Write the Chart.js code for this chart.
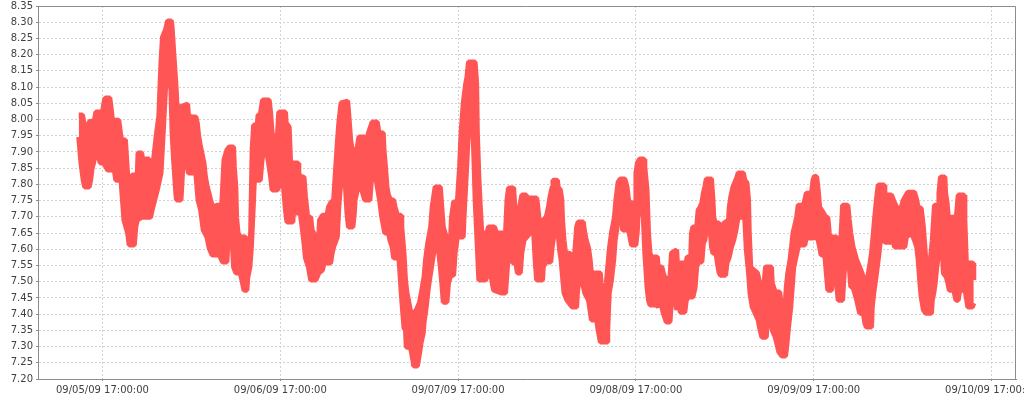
<!DOCTYPE html>
<html>
<head>
<meta charset="utf-8">
<script src="https://cdn.jsdelivr.net/npm/chart.js@4.4.1/dist/chart.umd.min.js"></script>
<style>
  html, body { margin: 0; padding: 0; background: #fff; }
  #wrap { width: 1024px; height: 400px; }
</style>
</head>
<body>
<div id="wrap"><canvas id="myChart"></canvas></div>
<script>
// hours after 09/05/09 17:00:00, upper and lower edge of the sampled band
const upperHours = [-3.2,-2.7,-2.4,-2.1,-1.8,-1.6,-1.1,-0.9,0,0.2,0.35,1.0,1.2,1.35,2.2,2.5,2.7,3.1,3.4,3.8,4.0,4.7,4.8,5.3,5.4,6.3,6.4,6.7,7.0,7.3,7.6,7.9,8.1,8.5,8.8,9.3,9.4,9.6,9.9,10.1,10.5,11.5,11.6,11.9,12.6,12.8,13.0,13.25,13.7,13.9,14.15,14.6,15.0,15.4,16.1,16.4,16.8,17.1,17.7,17.8,18.0,18.1,18.3,18.6,19.3,19.5,19.8,20.0,20.2,20.4,20.9,21.0,21.3,21.6,22.5,22.7,22.9,23.1,23.6,23.8,24.7,24.8,25.2,25.4,26.4,26.5,26.7,27.2,27.4,27.7,28.1,28.3,28.8,29.2,29.3,29.7,30.3,30.5,30.8,31.2,31.7,31.9,32.2,33.1,33.2,33.5,33.9,34.1,34.4,34.6,35.4,35.5,35.7,35.9,36.4,37.1,37.3,37.9,38.0,38.2,38.4,38.6,38.9,39.3,39.5,39.8,40.3,40.4,40.7,40.9,41.1,41.3,41.6,42.2,42.5,42.8,43.1,43.4,43.6,43.9,44.3,44.5,44.7,44.9,45.6,45.8,46.0,46.4,47.0,47.1,47.4,47.9,48.2,48.4,48.7,49.0,49.2,49.4,50.3,50.5,50.6,50.8,51.0,51.2,51.9,52.1,52.9,53.2,54.4,54.6,54.8,55.5,55.7,55.9,56.3,56.6,57.2,57.3,58.6,58.7,58.9,59.1,59.3,59.5,59.9,60.2,60.4,60.7,60.8,61.4,61.5,61.8,62.0,62.1,62.3,62.5,63.1,63.4,63.6,63.8,64.0,64.2,64.9,65.1,65.3,65.6,65.8,66.0,67.2,67.3,67.5,67.7,67.8,68.0,68.2,68.4,68.7,69.1,69.3,69.6,69.9,70.5,70.8,71.0,71.2,71.9,72.0,72.2,72.5,73.1,73.2,73.5,73.7,73.9,74.1,74.9,75.0,75.5,75.7,75.9,76.6,76.8,77.5,77.6,77.9,78.0,78.8,78.9,79.4,79.5,79.7,80.2,80.4,80.6,80.9,81.1,81.3,81.5,82.2,82.4,82.5,82.7,83.2,83.4,83.7,83.9,84.5,84.6,84.8,85.1,85.6,85.8,86.5,86.7,87.0,87.2,87.3,87.5,87.9,88.4,88.7,89.2,89.5,90.3,90.4,90.8,91.4,91.7,91.9,92.1,92.3,92.5,92.8,93.0,93.2,93.4,93.7,93.9,94.6,94.8,95.0,95.7,95.9,96.1,96.4,96.6,96.8,97.3,97.6,97.9,98.1,98.3,98.5,99.1,99.2,99.3,99.5,99.7,99.9,100.6,100.8,101.0,101.3,101.8,102.2,102.7,103.1,103.3,103.6,103.8,104.0,104.2,104.5,104.7,105.5,105.6,106.5,106.9,107.6,108.1,108.7,109.6,109.9,110.1,110.5,110.8,111.0,111.2,111.4,111.7,112.0,112.3,112.8,112.9,113.1,113.7,113.8,114.0,114.2,114.6,115.2,115.3,115.5,116.3,116.4,116.6,117.5,117.6];
const upperValues = [8.014,8.014,7.977,7.937,7.992,7.995,7.995,8.023,8.023,8.051,8.066,8.066,8.029,7.998,7.998,7.946,7.937,7.937,7.829,7.792,7.829,7.829,7.897,7.897,7.878,7.878,7.838,7.838,7.897,7.958,8.008,8.177,8.254,8.276,8.304,8.304,8.285,8.214,8.113,8.029,8.039,8.048,8.014,8.008,8.008,7.989,7.946,7.915,7.866,7.823,7.792,7.752,7.721,7.736,7.736,7.875,7.906,7.915,7.915,7.854,7.792,7.699,7.650,7.638,7.638,7.607,7.588,7.650,7.906,7.983,7.983,8.014,8.014,8.060,8.060,8.020,7.958,7.946,7.946,8.023,8.023,7.989,7.977,7.866,7.866,7.835,7.823,7.823,7.761,7.699,7.699,7.659,7.638,7.638,7.690,7.705,7.705,7.730,7.743,7.752,7.928,7.989,8.051,8.057,8.029,7.937,7.875,7.900,7.915,7.946,7.946,7.915,7.937,7.958,7.992,7.992,7.961,7.958,7.906,7.854,7.792,7.767,7.752,7.752,7.730,7.705,7.705,7.669,7.588,7.505,7.465,7.443,7.406,7.406,7.419,7.437,7.474,7.514,7.567,7.619,7.669,7.730,7.761,7.792,7.792,7.730,7.669,7.638,7.638,7.696,7.746,7.746,7.854,7.958,8.051,8.106,8.131,8.177,8.177,8.113,7.958,7.823,7.730,7.650,7.650,7.669,7.669,7.650,7.650,7.752,7.789,7.789,7.712,7.690,7.730,7.767,7.767,7.758,7.758,7.743,7.699,7.650,7.659,7.690,7.699,7.730,7.761,7.792,7.813,7.813,7.792,7.783,7.752,7.690,7.628,7.588,7.588,7.567,7.545,7.607,7.669,7.684,7.684,7.650,7.628,7.604,7.573,7.527,7.527,7.496,7.465,7.443,7.465,7.496,7.545,7.598,7.650,7.699,7.752,7.807,7.817,7.817,7.792,7.752,7.743,7.743,7.835,7.866,7.878,7.878,7.854,7.783,7.650,7.588,7.576,7.576,7.545,7.545,7.527,7.511,7.511,7.588,7.598,7.558,7.545,7.558,7.558,7.576,7.576,7.650,7.669,7.669,7.721,7.727,7.743,7.773,7.792,7.817,7.817,7.752,7.699,7.681,7.681,7.659,7.669,7.681,7.690,7.730,7.761,7.792,7.820,7.835,7.835,7.813,7.804,7.752,7.650,7.545,7.536,7.527,7.496,7.474,7.545,7.545,7.496,7.468,7.468,7.413,7.382,7.413,7.484,7.527,7.567,7.607,7.650,7.669,7.699,7.736,7.736,7.752,7.773,7.773,7.813,7.826,7.823,7.783,7.730,7.712,7.699,7.699,7.650,7.607,7.638,7.638,7.607,7.588,7.545,7.650,7.736,7.736,7.690,7.650,7.607,7.567,7.545,7.514,7.505,7.514,7.558,7.588,7.638,7.690,7.761,7.798,7.798,7.767,7.767,7.743,7.712,7.752,7.776,7.776,7.752,7.727,7.727,7.669,7.607,7.545,7.545,7.558,7.628,7.736,7.736,7.773,7.823,7.823,7.773,7.743,7.690,7.699,7.699,7.712,7.767,7.767,7.690,7.558,7.558,7.505];
const lowerHours = [-3.2,-2.9,-2.6,-2.4,-1.8,-1.6,-1.4,-1.2,-1.0,-0.5,-0.3,0.2,0.7,1.6,1.8,2.5,2.7,2.9,3.4,3.6,4.3,4.5,4.7,5.3,6.5,6.7,7.4,7.9,8.2,8.5,8.8,9.2,9.4,9.6,9.9,10.0,10.6,10.8,11.0,11.2,11.4,11.6,12.6,12.9,13.25,13.6,14.1,14.4,14.8,15.7,15.9,16.2,16.8,16.9,17.1,17.3,17.5,17.7,18.0,18.6,18.9,19.1,19.5,19.6,19.9,20.1,20.35,20.5,21.3,21.5,21.7,22.0,22.2,22.5,22.7,22.9,23.6,23.8,24.3,24.5,24.7,24.9,25.7,25.8,26.1,26.7,27.0,27.2,27.4,27.8,28.1,28.8,29.2,29.7,29.9,30.8,31.0,31.2,31.7,31.9,32.3,32.7,32.8,33.0,33.2,33.8,34.0,34.1,34.6,34.8,35.0,35.4,36.1,36.3,36.5,36.8,37.1,37.4,37.7,38.1,38.6,38.8,39.1,39.3,40.0,40.1,40.3,40.4,40.7,40.9,41.0,41.5,41.65,41.9,42.0,42.5,42.8,43.0,43.3,43.4,43.7,44.0,44.5,44.7,44.9,45.2,45.4,45.6,45.8,46.0,46.5,46.7,47.0,47.4,47.6,47.9,48.7,48.8,49.0,49.2,49.4,49.6,49.9,50.1,50.3,50.55,50.8,51.7,52.1,52.4,52.6,52.8,53.9,54.4,54.5,54.7,54.9,55.1,55.4,55.8,56.0,56.4,56.6,56.9,57.7,58.2,58.4,58.6,59.4,59.5,59.8,60.5,60.7,60.9,61.1,61.4,61.5,61.7,61.9,62.1,62.3,62.7,63.4,64.0,64.1,64.4,64.6,64.8,65.1,65.6,65.8,66.0,66.7,66.9,67.2,68.1,68.2,68.3,68.4,68.7,69.0,69.2,69.4,69.6,69.9,70.1,70.2,71.0,71.2,71.4,72.0,72.2,72.3,72.6,72.7,73.0,73.2,73.5,73.7,73.9,74.8,75.0,75.25,75.5,75.7,76.1,76.6,76.8,77.0,77.3,77.5,77.7,78.0,78.6,78.8,79.1,79.7,80.0,80.2,80.4,80.9,81.1,81.3,81.5,82.0,82.2,82.4,82.8,83.0,83.2,83.4,84.1,84.3,84.6,84.9,85.2,85.5,85.8,86.6,86.7,86.9,87.2,87.4,87.7,88.1,88.5,88.7,89.0,89.6,89.7,90.0,90.2,90.4,90.8,91.0,91.3,91.7,92.2,92.4,92.6,92.9,93.1,93.3,93.6,93.9,94.1,94.8,95.0,95.2,95.9,96.3,96.6,96.8,97.0,97.5,97.7,97.9,98.4,98.5,98.8,99.1,99.2,99.3,99.9,100.0,100.2,100.4,100.6,100.9,101.0,101.3,101.8,102.2,102.7,102.9,103.1,103.8,103.9,104.1,104.4,104.7,104.9,105.1,105.35,105.6,106.5,106.7,106.9,108.3,108.5,109.2,109.6,109.9,110.1,110.3,110.5,110.8,111.1,111.9,112.0,112.2,112.4,112.6,112.8,113.4,113.5,113.9,114.1,114.3,114.9,115.2,115.5,115.7,116.3,116.5,116.8,117.4,117.6];
const lowerValues = [7.946,7.866,7.813,7.792,7.792,7.813,7.850,7.866,7.891,7.884,7.866,7.866,7.844,7.844,7.813,7.813,7.752,7.690,7.650,7.613,7.613,7.669,7.690,7.699,7.699,7.721,7.783,7.835,7.958,8.091,8.137,8.122,7.958,7.875,7.773,7.752,7.752,7.835,7.900,7.900,7.866,7.835,7.835,7.752,7.721,7.659,7.638,7.604,7.582,7.582,7.576,7.561,7.561,7.607,7.743,7.699,7.628,7.545,7.527,7.527,7.496,7.474,7.474,7.511,7.545,7.607,7.730,7.813,7.813,7.866,7.906,7.906,7.897,7.854,7.823,7.783,7.783,7.792,7.835,7.773,7.721,7.684,7.684,7.730,7.712,7.712,7.659,7.619,7.573,7.545,7.505,7.505,7.527,7.536,7.558,7.558,7.588,7.607,7.638,7.730,7.844,7.854,7.792,7.712,7.669,7.669,7.712,7.752,7.804,7.804,7.783,7.752,7.752,7.813,7.835,7.835,7.792,7.752,7.699,7.650,7.650,7.628,7.607,7.573,7.573,7.545,7.474,7.443,7.357,7.351,7.298,7.298,7.289,7.258,7.240,7.240,7.280,7.311,7.342,7.372,7.422,7.484,7.558,7.588,7.628,7.650,7.588,7.545,7.496,7.437,7.437,7.496,7.520,7.520,7.588,7.638,7.638,7.699,7.783,7.875,7.968,8.029,8.029,7.906,7.752,7.628,7.505,7.505,7.527,7.527,7.496,7.474,7.465,7.465,7.496,7.558,7.607,7.588,7.558,7.558,7.527,7.527,7.588,7.628,7.650,7.650,7.567,7.505,7.505,7.545,7.561,7.561,7.607,7.638,7.690,7.690,7.650,7.598,7.567,7.514,7.465,7.443,7.422,7.422,7.465,7.527,7.567,7.496,7.465,7.443,7.413,7.382,7.382,7.351,7.314,7.314,7.351,7.413,7.465,7.505,7.567,7.628,7.659,7.690,7.721,7.721,7.659,7.659,7.638,7.613,7.613,7.659,7.712,7.730,7.752,7.699,7.588,7.484,7.443,7.428,7.428,7.422,7.443,7.422,7.403,7.376,7.376,7.443,7.453,7.443,7.413,7.434,7.406,7.406,7.443,7.453,7.453,7.484,7.545,7.561,7.561,7.619,7.628,7.659,7.669,7.607,7.588,7.588,7.558,7.530,7.520,7.520,7.558,7.576,7.607,7.628,7.659,7.699,7.699,7.690,7.598,7.527,7.465,7.422,7.403,7.382,7.357,7.329,7.329,7.372,7.403,7.382,7.351,7.329,7.311,7.283,7.271,7.271,7.311,7.360,7.422,7.484,7.545,7.576,7.607,7.613,7.613,7.638,7.635,7.635,7.638,7.628,7.607,7.582,7.582,7.527,7.474,7.474,7.496,7.514,7.496,7.465,7.443,7.443,7.484,7.558,7.607,7.607,7.514,7.484,7.484,7.443,7.403,7.403,7.372,7.360,7.360,7.422,7.465,7.514,7.567,7.607,7.650,7.638,7.622,7.622,7.638,7.607,7.607,7.638,7.650,7.628,7.607,7.567,7.505,7.453,7.413,7.403,7.403,7.443,7.465,7.496,7.545,7.576,7.576,7.527,7.514,7.496,7.474,7.474,7.443,7.443,7.474,7.474,7.465,7.422,7.422,7.434];

const xTickHours = [0, 24, 48, 72, 96, 120];
const xTickLabels = ['09/05/09 17:00:00', '09/06/09 17:00:00', '09/07/09 17:00:00', '09/08/09 17:00:00', '09/09/09 17:00:00', '09/10/09 17:00:00'];
const yTickValues = [7.20, 7.25, 7.30, 7.35, 7.40, 7.45, 7.50, 7.55, 7.60, 7.65, 7.70, 7.75, 7.80, 7.85, 7.90, 7.95, 8.00, 8.05, 8.10, 8.15, 8.20, 8.25, 8.30, 8.35];

const seriesColor = '#ff5555';
const axisColor = '#8c8c8c';
const gridColor = '#d2d2d2';

document.addEventListener('DOMContentLoaded', () => {
    const ctx = document.getElementById('myChart').getContext('2d');

    Chart.defaults.font.family = "'DejaVu Sans', sans-serif";
    Chart.defaults.font.size = 10;
    Chart.defaults.color = '#404040';

    const toPoints = (hours, values) => hours.map((h, i) => ({ x: h, y: values[i] }));

    // top and right edge of the plot box
    const plotOutline = {
        id: 'plotOutline',
        beforeDatasetsDraw(chart) {
            const { ctx, chartArea: a } = chart;
            ctx.save();
            ctx.strokeStyle = axisColor;
            ctx.lineWidth = 1;
            ctx.beginPath();
            ctx.moveTo(a.left, a.top + 0.5);
            ctx.lineTo(a.right - 0.5, a.top + 0.5);
            ctx.lineTo(a.right - 0.5, a.bottom);
            ctx.stroke();
            ctx.restore();
        }
    };

    new Chart(ctx, {
        type: 'line',
        data: {
            datasets: [
                {
                    data: toPoints(upperHours, upperValues),
                    borderColor: seriesColor,
                    backgroundColor: seriesColor,
                    borderWidth: 5,
                    borderJoinStyle: 'bevel',
                    pointRadius: 0,
                    tension: 0,
                    fill: '+1' // band down to the lower edge
                },
                {
                    data: toPoints(lowerHours, lowerValues),
                    borderColor: seriesColor,
                    backgroundColor: seriesColor,
                    borderWidth: 5,
                    borderJoinStyle: 'bevel',
                    pointRadius: 0,
                    tension: 0,
                    fill: false
                }
            ]
        },
        options: {
            responsive: true,
            maintainAspectRatio: false,
            animation: false,
            layout: {
                autoPadding: false,
                padding: { top: 6, right: 8, left: 0, bottom: 0 }
            },
            plugins: {
                legend: { display: false },
                tooltip: { enabled: false }
            },
            scales: {
                x: {
                    type: 'linear',
                    min: -8.7,
                    max: 123.3,
                    afterBuildTicks: (scale) => {
                        scale.ticks = xTickHours.map(v => ({ value: v }));
                    },
                    afterFit: (scale) => {
                        scale.height = 21;
                        scale.paddingLeft = 0;
                        scale.paddingRight = 0;
                    },
                    ticks: {
                        autoSkip: false,
                        maxRotation: 0,
                        minRotation: 0,
                        padding: 3,
                        callback: (value) => xTickLabels[xTickHours.indexOf(value)]
                    },
                    grid: {
                        color: gridColor,
                        tickColor: axisColor,
                        tickLength: 2,
                        tickBorderDash: []
                    },
                    border: { color: axisColor, width: 1, dash: [2, 2] }
                },
                y: {
                    min: 7.20,
                    max: 8.35,
                    afterBuildTicks: (scale) => {
                        scale.ticks = yTickValues.map(v => ({ value: v }));
                    },
                    afterFit: (scale) => {
                        scale.width = 38;
                        scale.paddingTop = 0;
                        scale.paddingBottom = 0;
                    },
                    ticks: {
                        padding: 3,
                        callback: (value) => value.toFixed(2)
                    },
                    grid: {
                        color: gridColor,
                        tickColor: axisColor,
                        tickLength: 2,
                        tickBorderDash: []
                    },
                    border: { color: axisColor, width: 1, dash: [2, 2] }
                }
            }
        },
        plugins: [plotOutline]
    });
});
</script>
</body>
</html>
